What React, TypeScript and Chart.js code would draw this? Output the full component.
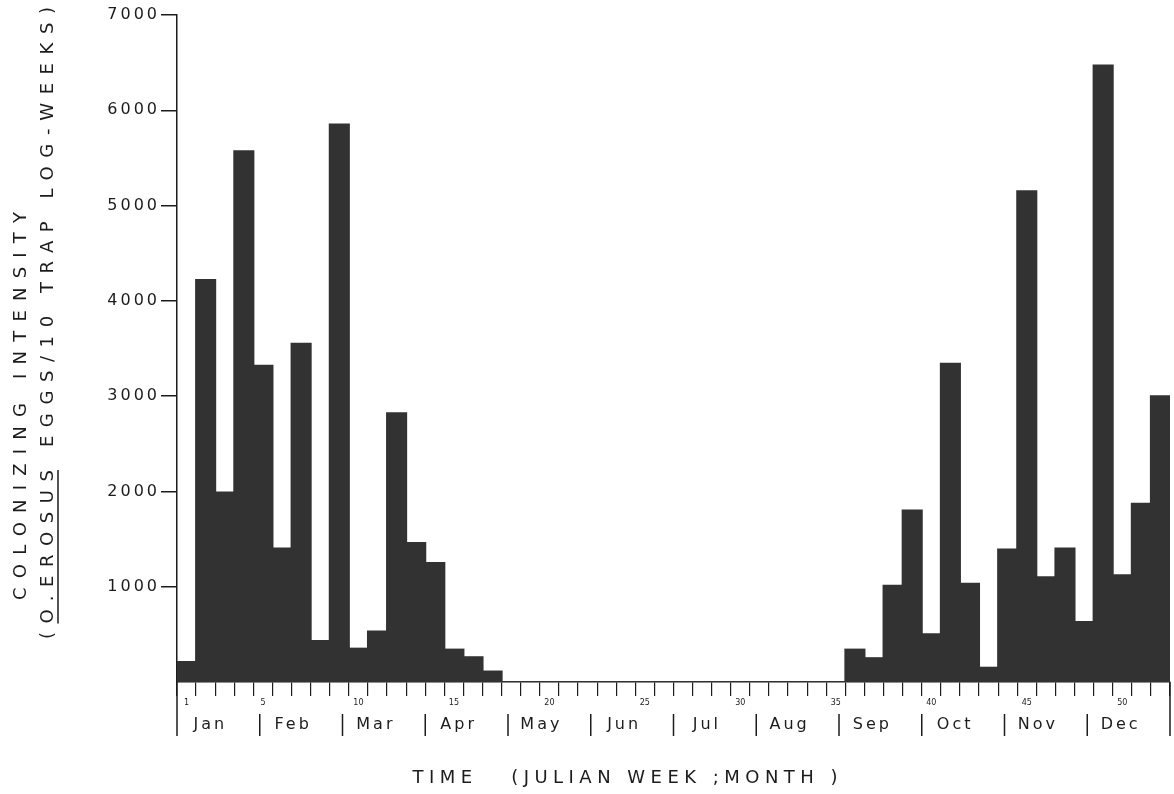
import React, { useEffect, useRef } from 'react';
import { Chart, registerables } from 'chart.js';

Chart.register(...registerables);

// Julian weeks of the year
const weeks: string[] = Array.from({ length: 52 }, (_, i) => String(i + 1));

// Colonizing intensity per week (O. erosus eggs / 10 trap log-weeks)
const winterSpring = [210, 4220, 1990, 5570, 3320, 1400, 3550, 430, 5850, 350, 530, 2820, 1460, 1250, 340, 260, 110];
const summer = [0, 0, 0, 0, 0, 0, 0, 0, 0, 0, 0, 0, 0, 0, 0, 0, 0, 0];
const autumnWinter = [340, 250, 1010, 1800, 500, 3340, 1030, 150, 1390, 5150, 1100, 1400, 630, 6470, 1120, 1870, 3000];
const intensity = [...winterSpring, ...summer, ...autumnWinter];

const months = ['Jan', 'Feb', 'Mar', 'Apr', 'May', 'Jun', 'Jul', 'Aug', 'Sep', 'Oct', 'Nov', 'Dec'];
const yTicks = [1000, 2000, 3000, 4000, 5000, 6000, 7000];
const weekMarks = [1, 5, 10, 15, 20, 25, 30, 35, 40, 45, 50];

const INK = '#1c1c1c';
const FONT = '"DejaVu Sans", "Liberation Sans", sans-serif';

// draw a string centred on (cx, cy), spread so that it spans `width` pixels
function spreadText(ctx: CanvasRenderingContext2D, text: string, cx: number, cy: number, width: number) {
  (ctx as any).letterSpacing = '0px';
  const natural = ctx.measureText(text).width;
  const gap = (width - natural) / (text.length - 1);
  (ctx as any).letterSpacing = `${gap}px`;
  ctx.textAlign = 'left';
  ctx.fillText(text, cx - width / 2, cy);
  return { start: cx - width / 2, gap };
}

const axisText = {
  id: 'axisText',
  afterDraw(chart: any) {
    const { ctx, chartArea, scales } = chart;
    const xs = scales.x;
    const ys = scales.y;
    const { left, right, bottom } = chartArea;
    ctx.save();
    ctx.fillStyle = INK;
    ctx.strokeStyle = INK;

    // value labels on the vertical axis
    ctx.font = `16px ${FONT}`;
    (ctx as any).letterSpacing = '3px';
    ctx.textAlign = 'right';
    ctx.textBaseline = 'middle';
    yTicks.forEach((v) => ctx.fillText(String(v), 160, ys.getPixelForValue(v)));

    // week numbers under the week ticks
    ctx.font = `8px ${FONT}`;
    (ctx as any).letterSpacing = '0px';
    ctx.textAlign = 'center';
    weekMarks.forEach((w) => ctx.fillText(String(w), xs.getPixelForValue(w - 1), bottom + 21));

    // month separators and names
    const span = (right - left) / months.length;
    ctx.lineWidth = 1.5;
    for (let i = 0; i <= months.length; i++) {
      const px = left + i * span;
      const edge = i === 0 || i === months.length;
      ctx.beginPath();
      ctx.moveTo(px, edge ? bottom : bottom + 32);
      ctx.lineTo(px, bottom + 54);
      ctx.stroke();
    }
    ctx.font = `16px ${FONT}`;
    (ctx as any).letterSpacing = '3px';
    ctx.textAlign = 'center';
    months.forEach((m, i) => ctx.fillText(m, left + (i + 0.5) * span - 8, bottom + 43));

    // horizontal axis title
    ctx.font = `18px ${FONT}`;
    spreadText(ctx, 'TIME   (JULIAN WEEK ;MONTH )', 625, 778, 425);

    // vertical axis title, two lines reading upwards
    ctx.save();
    ctx.translate(21, 406);
    ctx.rotate(-Math.PI / 2);
    ctx.font = `18px ${FONT}`;
    spreadText(ctx, 'COLONIZING INTENSITY', 0, 0, 388);
    ctx.restore();

    ctx.save();
    ctx.translate(48, 323);
    ctx.rotate(-Math.PI / 2);
    ctx.font = `18px ${FONT}`;
    const line2 = '(O.EROSUS EGGS/10 TRAP LOG-WEEKS)';
    const { start, gap } = spreadText(ctx, line2, 0, 0, 632);
    // underline the species name
    (ctx as any).letterSpacing = `${gap}px`;
    const a = start + ctx.measureText('(').width;
    const b = start + ctx.measureText('(O.EROSUS').width - gap;
    ctx.lineWidth = 1.5;
    ctx.beginPath();
    ctx.moveTo(a, 10);
    ctx.lineTo(b, 10);
    ctx.stroke();
    ctx.restore();

    ctx.restore();
  },
};

export default function App() {
  const canvasRef = useRef<HTMLCanvasElement | null>(null);

  useEffect(() => {
    if (!canvasRef.current) return;
    const chart = new Chart(canvasRef.current, {
      type: 'bar',
      data: {
        labels: weeks,
        datasets: [
          {
            data: intensity,
            backgroundColor: '#323232',
            borderWidth: 0,
            inflateAmount: 1,
            barPercentage: 1,
            categoryPercentage: 1,
          },
        ],
      },
      options: {
        responsive: false,
        animation: false,
        layout: { padding: { top: 15, right: 4, bottom: 0, left: 0 } },
        plugins: { legend: { display: false }, tooltip: { enabled: false } },
        scales: {
          x: {
            type: 'category',
            offset: true,
            ticks: { display: false },
            grid: { offset: true, drawOnChartArea: false, tickLength: 14, color: INK, lineWidth: 1.2 },
            border: { display: true, color: INK, width: 1.5 },
            afterFit: (s: any) => {
              s.height = 112;
            },
          },
          y: {
            min: 0,
            max: 7000,
            ticks: { display: false, stepSize: 1000 },
            grid: {
              drawOnChartArea: false,
              tickLength: 16,
              lineWidth: 1.5,
              color: (c: any) => (c.tick && c.tick.value === 0 ? 'rgba(0,0,0,0)' : INK),
            },
            border: { display: true, color: INK, width: 1.5 },
            afterFit: (s: any) => {
              s.width = 177;
            },
          },
        },
      },
      plugins: [axisText],
    });
    return () => chart.destroy();
  }, []);

  return (
    <div style={{ position: 'fixed', left: 0, top: 0, width: 1174, height: 794, background: '#fff' }}>
      <canvas ref={canvasRef} width={1174} height={794} style={{ display: 'block' }} />
    </div>
  );
}
